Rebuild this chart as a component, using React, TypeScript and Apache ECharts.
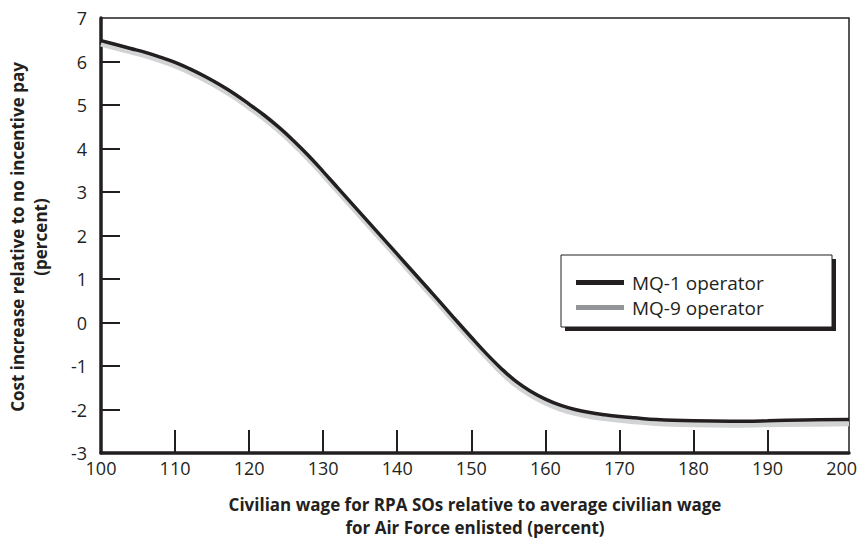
import React, { useEffect, useRef } from "react";
import * as echarts from "echarts";

const xValues = [100, 102, 104, 106, 108, 110, 112, 114, 116, 118, 120, 122, 124, 126, 128, 130, 132, 134, 136, 138, 140, 142, 144, 146, 148, 150, 152, 154, 156, 158, 160, 162, 164, 166, 168, 170, 172, 175, 180, 185, 190, 195, 201];
const mq1Values = [6.48, 6.39, 6.3, 6.21, 6.1, 5.98, 5.83, 5.66, 5.47, 5.26, 5.02, 4.77, 4.49, 4.18, 3.84, 3.47, 3.09, 2.71, 2.33, 1.95, 1.57, 1.19, 0.81, 0.43, 0.04, -0.34, -0.71, -1.05, -1.35, -1.58, -1.76, -1.9, -2.0, -2.07, -2.12, -2.16, -2.19, -2.23, -2.26, -2.27, -2.26, -2.24, -2.23];
const mq9Values = [6.4, 6.31, 6.22, 6.13, 6.02, 5.9, 5.75, 5.58, 5.39, 5.18, 4.94, 4.69, 4.41, 4.1, 3.76, 3.39, 3.01, 2.63, 2.25, 1.87, 1.49, 1.11, 0.73, 0.35, -0.04, -0.42, -0.79, -1.14, -1.44, -1.67, -1.85, -1.99, -2.09, -2.16, -2.21, -2.25, -2.28, -2.32, -2.35, -2.36, -2.35, -2.34, -2.33];
const seriesNames = ["MQ-1 operator", "MQ-9 operator"];
const xTickLabels = [100, 110, 120, 130, 140, 150, 160, 170, 180, 190, 200];
const xTickMarks = [110, 120, 130, 140, 150, 160, 170, 180, 190];
const yTickLabels = [-3, -2, -1, 0, 1, 2, 3, 4, 5, 6, 7];
const yTickMarks = [-2, -1, 0, 1, 2, 3, 4, 5, 6];
const xTitle = "Civilian wage for RPA SOs relative to average civilian wage\nfor Air Force enlisted (percent)";
const yTitle = "Cost increase relative to no incentive pay\n(percent)";

const FONT = '"Open Sans", "Noto Sans", sans-serif';
const INK = "#231f20";

export default function App() {
  const ref = useRef<HTMLDivElement>(null);
  useEffect(() => {
    if (!ref.current) return;
    const chart = echarts.init(ref.current, undefined, { renderer: "svg" });
    chart.setOption({
      animation: false,
      backgroundColor: "#ffffff",
      grid: { left: 101, right: 15, top: 18, bottom: 101, show: true, borderColor: INK, borderWidth: 1.5, backgroundColor: "transparent" },
      xAxis: {
        type: "value",
        min: 100,
        max: 201,
        interval: 10,
        axisLine: { show: true, onZero: false, lineStyle: { color: INK, width: 3.5 } },
        axisTick: { show: true, inside: true, length: 23, customValues: xTickMarks, lineStyle: { color: INK, width: 2 } },
        axisLabel: { color: INK, fontSize: 18, fontFamily: FONT, margin: 6, customValues: xTickLabels },
        splitLine: { show: false },
      },
      yAxis: {
        type: "value",
        min: -3,
        max: 7,
        interval: 1,
        axisLine: { show: true, onZero: false, lineStyle: { color: INK, width: 3.5 } },
        axisTick: { show: true, inside: true, length: 19, customValues: yTickMarks, lineStyle: { color: INK, width: 2 } },
        axisLabel: { color: INK, fontSize: 18, fontFamily: FONT, margin: 14, customValues: yTickLabels },
        splitLine: { show: false },
      },
      legend: {
        orient: "vertical",
        left: 571,
        top: 267,
        itemWidth: 48,
        itemHeight: 5,
        itemGap: 4,
        icon: "rect",
        textStyle: { color: INK, fontSize: 19, fontFamily: FONT, lineHeight: 21, padding: [0, 0, 0, 3] },
        data: [
          { name: seriesNames[0], itemStyle: { color: INK } },
          { name: seriesNames[1], itemStyle: { color: "#939598" } },
        ],
      },
      graphic: [
        { type: "rect", z: 1, shape: { x: 565, y: 259, width: 271, height: 72 }, style: { fill: INK } },
        { type: "rect", z: 1, shape: { x: 561, y: 255, width: 271, height: 72 }, style: { fill: "#ffffff", stroke: INK, lineWidth: 1 } },
        {
          type: "text",
          x: 475,
          y: 516,
          style: { text: xTitle, textAlign: "center", textVerticalAlign: "middle", font: `bold 17px ${FONT}`, lineHeight: 23, fill: INK },
        },
        {
          type: "text",
          x: 29,
          y: 237,
          rotation: Math.PI / 2,
          style: { text: yTitle, textAlign: "center", textVerticalAlign: "middle", font: `bold 17px ${FONT}`, lineHeight: 23, fill: INK },
        },
      ],
      series: [
        {
          name: seriesNames[1],
          type: "line",
          z: 2,
          smooth: 0.4,
          symbol: "none",
          lineStyle: { color: "#d1d3d4", width: 5 },
          itemStyle: { color: "#939598" },
          data: xValues.map((x, i) => [x, mq9Values[i]]),
        },
        {
          name: seriesNames[0],
          type: "line",
          z: 3,
          smooth: 0.4,
          symbol: "none",
          lineStyle: { color: INK, width: 3.5 },
          itemStyle: { color: INK },
          data: xValues.map((x, i) => [x, mq1Values[i]]),
        },
      ],
    });
    return () => chart.dispose();
  }, []);
  return <div ref={ref} style={{ width: 864, height: 554, position: "absolute", left: 0, top: 0 }} />;
}
